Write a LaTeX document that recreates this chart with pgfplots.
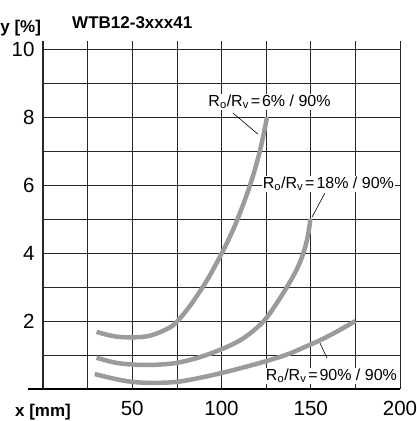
\documentclass[border=0pt]{standalone}
\usepackage{fontspec}
\setmainfont{Liberation Sans}
\usepackage{pgfplots}
\pgfplotsset{compat=1.18}
\definecolor{curvegray}{HTML}{9B9B9B}
\newcommand{\ann}[1]{R\textsubscript{o}/R\textsubscript{v}\hspace{0.12em}=\hspace{0.12em}#1\% / 90\%}

\begin{document}
\begin{tikzpicture}
\begin{axis}[
    scale only axis, width=357pt, height=348pt,
    xmin=0, xmax=200, ymin=0, ymax=10.24,
    axis x line=bottom, axis y line=left,
    axis line style={-},
    x axis line style={line width=1.4pt, black},
    y axis line style={line width=1.2pt, black!85},
    xtick={50,100,150,200}, minor xtick={25,75,125,175},
    ytick={2,4,6,8,10}, minor ytick={1,3,5,7,9},
    grid=both,
    major grid style={black!85, line width=0.7pt},
    minor grid style={black!85, line width=0.7pt},
    major tick length=0pt, minor tick length=0pt,
    tick label style={font=\fontsize{20.5}{20.5}\selectfont},
    /pgf/number format/assume math mode=true,
    yticklabel style={xshift=-5pt},
    xticklabel style={yshift=-8.5pt},
    clip=false,
]
% Ro/Rv = 6% / 90%
\addplot[curvegray, line width=4.5pt, smooth, tension=0.6] coordinates {
    (30,1.68) (40,1.55) (50,1.52) (60,1.57) (70,1.78) (75,1.98) (82,2.42)
    (88,2.88) (93,3.3) (98,3.78) (104,4.4) (109,5.0) (116,6.0) (121.5,7.0) (125.5,8.0)
};
% Ro/Rv = 18% / 90%
\addplot[curvegray, line width=4.5pt, smooth, tension=0.6] coordinates {
    (30,0.92) (40,0.78) (50,0.72) (62,0.71) (75,0.77) (88,0.94) (100,1.17)
    (110,1.42) (118,1.72) (124.5,2.05) (130,2.45) (136.3,2.97) (141,3.4)
    (144.5,3.8) (147,4.2) (148.7,4.6) (149.8,5.0)
};
% Ro/Rv = 90% / 90%
\addplot[curvegray, line width=4.5pt, smooth, tension=0.6] coordinates {
    (29,0.44) (40,0.3) (50,0.21) (61,0.18) (75,0.21) (88,0.33) (100,0.47)
    (112,0.63) (125,0.82) (137,1.02) (146,1.22) (155,1.43) (165,1.7) (175,2.0)
};

\draw[line width=1.4pt] (axis cs:0,0) -- ++(-15pt,0);
\coordinate (O) at (axis cs:0,0);

\draw[line width=0.6pt] (axis cs:106.4,8.12) -- (axis cs:120.4,7.5);
\draw[line width=0.6pt] (axis cs:157.9,5.76) -- (axis cs:150.7,5.06);
\draw[line width=0.6pt] (axis cs:159.1,0.91) -- (axis cs:155.2,1.35);

\node[anchor=base, fill=white, inner sep=1pt, font=\fontsize{16}{16}\selectfont]
    at (axis cs:126.9,8.32) {\ann{6}};
\node[anchor=base, fill=white, inner sep=1pt, font=\fontsize{16}{16}\selectfont]
    at (axis cs:159.9,5.91) {\ann{18}};
\node[anchor=base, fill=white, inner sep=1pt, font=\fontsize{16}{16}\selectfont]
    at (axis cs:161.6,0.26) {\ann{90}};

\node[anchor=base, font=\bfseries\fontsize{17}{17}\selectfont] at (axis cs:50,10.62) {WTB12-3xxx41};
\node[anchor=base east, inner sep=0pt, font=\bfseries\fontsize{17}{17}\selectfont] at (axis cs:-1.0,10.5) {y [\%]};
\node[anchor=base, inner sep=0pt, font=\bfseries\fontsize{17}{17}\selectfont] at (axis cs:0,-0.82) {x [mm]};
\end{axis}
\pgfresetboundingbox
\path[use as bounding box] ([shift={(-43pt,-32pt)}]O) rectangle ++(416pt,421pt);
\end{tikzpicture}
\end{document}
